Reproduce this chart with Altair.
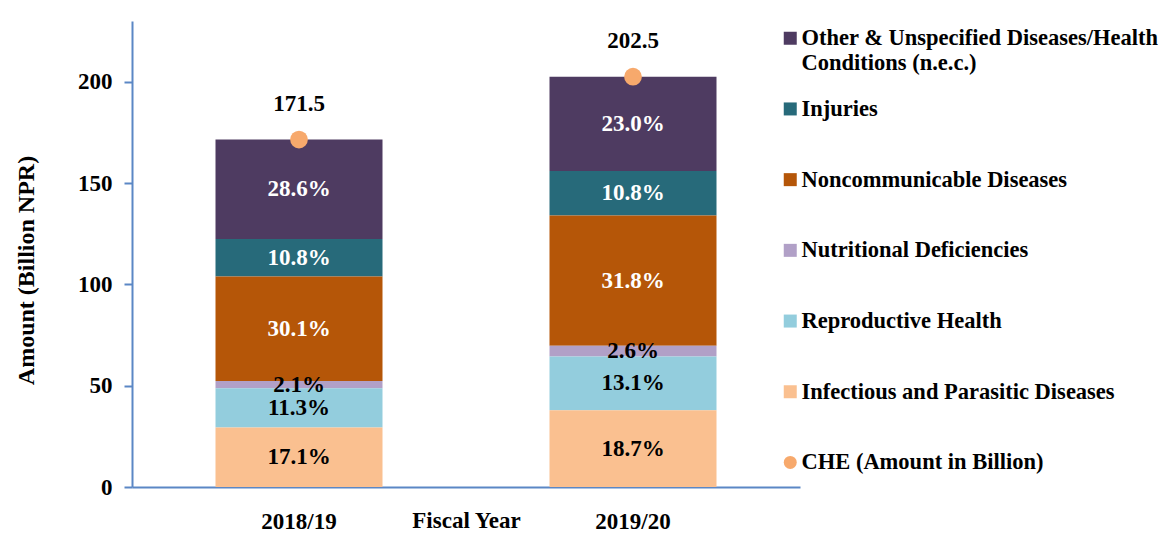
import altair as alt
import pandas as pd

years = ["2018/19", "2019/20"]
totals = [171.5, 202.5]
categories = [
    "Other & Unspecified Diseases/Health Conditions (n.e.c.)",
    "Injuries",
    "Noncommunicable Diseases",
    "Nutritional Deficiencies",
    "Reproductive Health",
    "Infectious and Parasitic Diseases",
]
share_2018 = [28.6, 10.8, 30.1, 2.1, 11.3, 17.1]
share_2019 = [23.0, 10.8, 31.8, 2.6, 13.1, 18.7]
dark_label = [True, True, True, False, False, False]
cat_colors = ["#4E3B61", "#276A7A", "#B55608", "#B1A0C7", "#93CDDD", "#FAC090"]
che_label = "CHE (Amount in Billion)"
che_color = "#F7A96C"

FONT = "Liberation Serif"
AXIS_BLUE = "#5B87C5"
FS = 23

rows = []
for yr, tot, shares in zip(years, totals, [share_2018, share_2019]):
    for i, (cat, sh) in enumerate(zip(categories, shares)):
        rows.append({
            "year": yr,
            "category": cat,
            "share": sh,
            "amount": tot * sh / 100.0,
            "order": len(categories) - 1 - i,
            "dark": dark_label[i],
            "label": f"{sh:.1f}%",
        })
bars_df = pd.DataFrame(rows)
tot_df = pd.DataFrame({"year": years, "total": totals, "category": [che_label] * len(years),
                       "label": [f"{t:.1f}" for t in totals]})

domain = categories + [che_label]
rng = cat_colors + [che_color]

x_enc = alt.X("year:N", title="Fiscal Year",
              scale=alt.Scale(paddingInner=0.5, paddingOuter=0.25),
              axis=alt.Axis(labelAngle=0, ticks=False, domainColor=AXIS_BLUE, domainWidth=2,
                            labelFont=FONT, labelFontSize=FS, labelFontWeight="bold",
                            labelColor="black", labelPadding=23, labelBaseline="top",
                            titleFont=FONT, titleFontSize=FS, titleFontWeight="bold",
                            titleColor="black", titleY=45, titleBaseline="bottom"))

legend = alt.Legend(
    orient="none", legendX=647, legendY=6, title=None, padding=0,
    labelFont=FONT, labelFontSize=22.5, labelFontWeight="bold",
    labelColor="black", labelLimit=0, labelOffset=0,
    symbolSize=169, symbolStrokeWidth=0, rowPadding=22.7,
    symbolType={"expr": "datum.value == 'CHE (Amount in Billion)' ? 'circle' : 'square'"},
    labelExpr=("datum.label == 'Other & Unspecified Diseases/Health Conditions (n.e.c.)'"
               " ? ['Other & Unspecified Diseases/Health', 'Conditions (n.e.c.)']"
               " : [datum.label, ' ']"),
)

color_enc = alt.Color("category:N", scale=alt.Scale(domain=domain, range=rng), legend=legend)

y_axis = alt.Axis(values=[0, 50, 100, 150, 200], grid=False, tickSize=8, tickWidth=2,
                  tickColor=AXIS_BLUE, domainColor=AXIS_BLUE, domainWidth=2,
                  labelFont=FONT, labelFontSize=FS, labelFontWeight="bold", labelColor="black",
                  labelPadding=12, title="Amount (Billion NPR)", titleFont=FONT,
                  titleFontSize=24, titleFontWeight="bold", titleColor="black",
                  titleAngle=270, titleX=-106, titleY=249, titleAlign="center",
                  titleBaseline="middle")

bars = alt.Chart(bars_df).mark_bar().encode(
    x=x_enc,
    y=alt.Y("amount:Q", stack="zero", scale=alt.Scale(domain=[0, 230], nice=False), axis=y_axis),
    color=color_enc,
    order=alt.Order("order:Q", sort="ascending"),
)

seg_text = alt.Chart(bars_df).transform_stack(
    stack="amount", groupby=["year"], sort=[alt.SortField("order", "ascending")], as_=["y0", "y1"]
).transform_calculate(mid="(datum.y0 + datum.y1) / 2").mark_text(
    font=FONT, fontSize=FS, fontWeight="bold"
).encode(
    x="year:N",
    y="mid:Q",
    text="label:N",
    color=alt.condition("datum.dark", alt.value("white"), alt.value("black")),
)

points = alt.Chart(tot_df).mark_point(filled=True, size=314, opacity=1).encode(
    x="year:N", y="total:Q", color=color_enc,
)

tot_text = alt.Chart(tot_df).mark_text(font=FONT, fontSize=FS, fontWeight="bold", dy=-36,
                                       color="black").encode(
    x="year:N", y="total:Q", text="label:N",
)

chart = alt.layer(bars, seg_text, points, tot_text).properties(
    width=668, height=466,
    autosize=alt.AutoSizeParams(type="none"),
    padding={"left": 124, "top": 13, "right": 363, "bottom": 45},
).configure_view(stroke=None)

chart.save("out.html", embed_options={"renderer": "svg", "actions": False})
